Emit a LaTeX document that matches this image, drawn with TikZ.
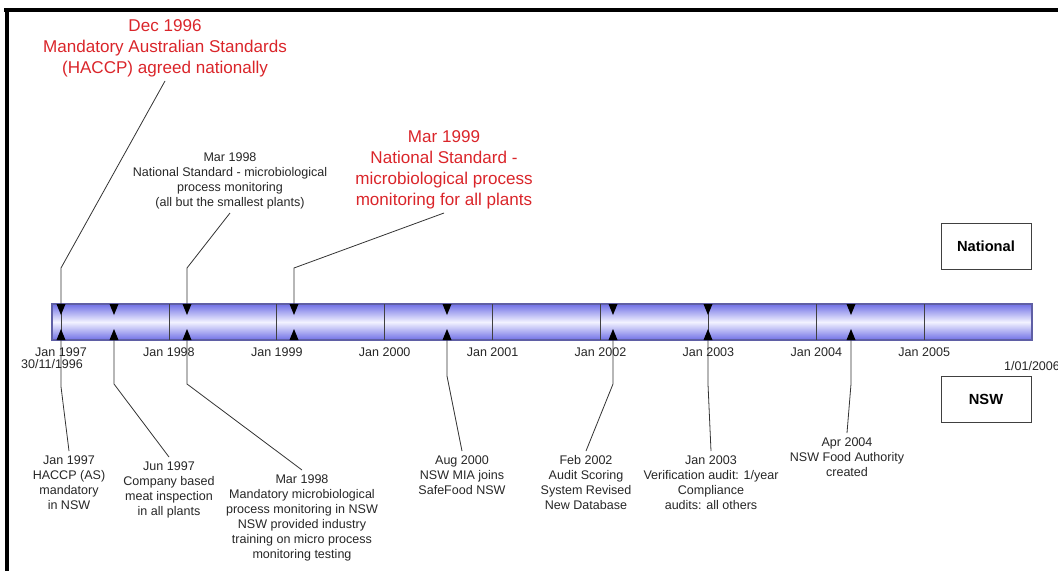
\documentclass[tikz,border=0pt]{standalone}
\usepackage{fontspec}
\setmainfont{Liberation Sans}
\usepackage{tikz}
\definecolor{hlred}{RGB}{218,37,42}
\definecolor{barblue}{RGB}{112,112,230}
\definecolor{barpale}{RGB}{242,242,255}
\definecolor{barrim}{RGB}{95,95,165}
\tikzset{
	evmark/.pic = {

			\fill (-4.5,-18) -- (4.5,-18) -- (0,-7) -- cycle;
			\fill (-4.5,18) -- (4.5,18) -- (0,7) -- cycle;

			\coordinate (-top) at (0,-18);
			\coordinate (-bot) at (0,18);
		
			}
		}

\begin{document}
\begin{tikzpicture}
		[x=0.75pt, y=-0.75pt,
		every node/.style={inner sep=3pt},
		small/.style = {font=\fontsize{9.4}{11.25}\selectfont, align=center, text=black!85},
		hilite/.style = {font=\fontsize{12.8}{15.75}\selectfont, align=center, text=hlred},
		keybox/.style = {draw=black!75, line width=0.6pt, minimum width=67.5pt, minimum height=34.5pt, font=\fontsize{11}{13}\selectfont\bfseries},
		leader/.style = {line width=0.6pt, black!80}
		]
		\useasboundingbox (0,0) rectangle (1058,571);
		% frame
		\draw[line width=3pt] (4,10) -- (1058,10);
		\draw[line width=3pt] (7,8.5) -- (7,571);

		% time bar
		\shade[top color=barblue, bottom color=barblue, middle color=barpale] (52,304) rectangle (1032,340);
		\draw[barrim, line width=0.8pt] (52,304) rectangle (1032,340);
		\foreach \yr [count=\i from 0] in {1997,...,2005}{
			\draw[black!75, line width=0.6pt] (61+107.9*\i,304) -- (61+107.9*\i,340);
			\node[small, inner sep=0pt] (yr\yr) at (61+107.9*\i,352) {Jan \yr};
		}
		\node[small, inner sep=0pt] (barstart) at (52,364) {30/11/1996};
		\node[small, inner sep=0pt] (barend) at (1032,366) {1/01/2006};

		% event markers
		\foreach \mx [count=\k] in {61,114,187,294,447,613,708,851}
			\pic (m\k) at (\mx,322) {evmark};

		% national events
		\node[hilite, anchor=south] (dec96) at (165,81) {Dec 1996\\Mandatory Australian Standards\\(HACCP) agreed nationally};
		\node[small, anchor=south] (mar98n) at (230,213) {Mar 1998\\National Standard - microbiological\\process monitoring\\(all but the smallest plants)};
		\node[hilite, anchor=south] (mar99) at (444,213) {Mar 1999\\National Standard -\\microbiological process\\monitoring for all plants};

		% NSW events
		\node[small, anchor=north] (jan97) at (69,451) {Jan 1997\\HACCP (AS)\\mandatory\\in NSW};
		\node[small, anchor=north] (jun97) at (169,457) {Jun 1997\\Company based\\meat inspection\\in all plants};
		\node[small, anchor=north] (mar98s) at (302,470) {Mar 1998\\Mandatory microbiological\\process monitoring in NSW\\NSW provided industry\\training on micro process\\monitoring testing};
		\node[small, anchor=north] (aug00) at (462,451) {Aug 2000\\NSW MIA joins\\SafeFood NSW};
		\node[small, anchor=north] (feb02) at (586,451) {Feb 2002\\Audit Scoring\\System Revised\\New Database};
		\node[small, anchor=north] (jan03) at (711,451) {Jan 2003\\Verification audit: 1/year\\Compliance\\audits: all others};
		\node[small, anchor=north] (apr04) at (847,433) {Apr 2004\\NSW Food Authority\\created};

		% key
		\node[keybox] (natkey) at (986,246) {National};
		\node[keybox] (nswkey) at (986,399) {NSW};

		% leaders
		\draw[leader] (dec96.south) -- ([yshift=27pt]m1-top) -- (m1-top);
		\draw[leader] (mar98n.south) -- ([yshift=27pt]m3-top) -- (m3-top);
		\draw[leader] (mar99.south) -- ([yshift=27pt]m4-top) -- (m4-top);

		\draw[leader] (m1-bot) -- ([yshift=-35pt]m1-bot) -- (jan97.north);
		\draw[leader] (m2-bot) -- ([yshift=-33pt]m2-bot) -- (jun97.north);
		\draw[leader] (m3-bot) -- ([yshift=-33pt]m3-bot) -- (mar98s.north);
		\draw[leader] (m5-bot) -- ([yshift=-27pt]m5-bot) -- (aug00.north);
		\draw[leader] (m6-bot) -- ([yshift=-33pt]m6-bot) -- (feb02.north);
		\draw[leader] (m7-bot) -- ([yshift=-33pt]m7-bot) -- (jan03.north);
		\draw[leader] (m8-bot) -- ([yshift=-33pt]m8-bot) -- (apr04.north);
	\end{tikzpicture}
\end{document}
